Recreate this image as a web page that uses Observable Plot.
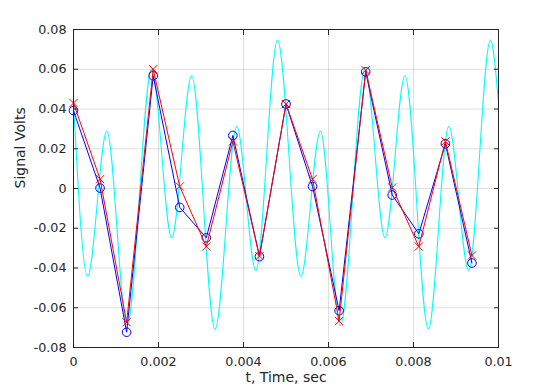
<!DOCTYPE html>
<html>
<head>
<meta charset="utf-8">
<script src="https://cdn.jsdelivr.net/npm/d3@7"></script>
<script src="https://cdn.jsdelivr.net/npm/@observablehq/plot@0.6"></script>
<style>
  html, body { margin: 0; padding: 0; background: #fff; }
</style>
</head>
<body>
<div id="chart"></div>
<script>
// Sample instants (seconds)
const sampleTimes = [0, 0.000625, 0.00125, 0.001875, 0.0025, 0.003125, 0.00375, 0.004375,
                     0.005, 0.005625, 0.00625, 0.006875, 0.0075, 0.008125, 0.00875, 0.009375];
// Blue series (circles)
const blueValues = [0.0392, 0.0002, -0.0723, 0.0567, -0.0095, -0.0248, 0.0267, -0.0343,
                    0.0425, 0.0010, -0.0615, 0.0587, -0.0033, -0.0228, 0.0225, -0.0375];
// Red series (x markers)
const redValues = [0.0430, 0.0047, -0.0673, 0.0600, 0.0010, -0.0292, 0.0237, -0.0340,
                   0.0425, 0.0047, -0.0667, 0.0595, 0.0005, -0.0292, 0.0237, -0.0337];
// Cyan continuous signal: read-off turning points (peaks / troughs) and end points
const cyanTimes = [0, 0.00033, 0.000785, 0.00126, 0.00184, 0.00231, 0.00278, 0.00333, 0.00384, 0.00429, 0.0048,
                   0.00535, 0.00581, 0.00628, 0.00686, 0.00733, 0.0078, 0.00835, 0.00883, 0.0093, 0.00981, 0.01];
const cyanValues = [0.043, -0.0442, 0.0288, -0.0687, 0.0603, -0.0248, 0.0567, -0.0708, 0.0312, -0.0412, 0.0747,
                    -0.0442, 0.0288, -0.069, 0.0603, -0.0248, 0.0567, -0.0708, 0.0312, -0.0412, 0.0747, 0.0433];
// Tick values
const xTicks = [0, 0.002, 0.004, 0.006, 0.008, 0.01];
const yTicks = [-0.08, -0.06, -0.04, -0.02, 0, 0.02, 0.04, 0.06, 0.08];
const xLabel = "t, Time, sec";
const yLabel = "Signal Volts";

const cyan = cyanTimes.map((t, i) => ({t, v: cyanValues[i]}));
const blue = sampleTimes.map((t, i) => ({t, v: blueValues[i]}));
const red = sampleTimes.map((t, i) => ({t, v: redValues[i]}));

const fmt = d => String(Math.round(d * 1e6) / 1e6);
const axisColor = "#262626";

const chart = Plot.plot({
  width: 550,
  height: 390,
  marginLeft: 73,
  marginRight: 52,
  marginTop: 29,
  marginBottom: 43,
  style: {fontFamily: "DejaVu Sans, sans-serif", fontSize: "12.7px", color: axisColor, background: "#fff"},
  x: {domain: [0, 0.01]},
  y: {domain: [-0.08, 0.08]},
  marks: [
    Plot.gridX(xTicks, {stroke: axisColor, strokeOpacity: 0.15}),
    Plot.gridY(yTicks, {stroke: axisColor, strokeOpacity: 0.15}),
    Plot.line(cyan, {x: "t", y: "v", stroke: "#00ffff", strokeWidth: 1.1, curve: "monotone-x"}),
    Plot.line(blue, {x: "t", y: "v", stroke: "#0000ff", strokeWidth: 1}),
    Plot.dot(blue, {x: "t", y: "v", stroke: "#0000ff", r: 4.3, strokeWidth: 1}),
    Plot.line(red, {x: "t", y: "v", stroke: "#ff0000", strokeWidth: 1}),
    Plot.dot(red, {x: "t", y: "v", stroke: "#ff0000", symbol: "times", r: 3.8, strokeWidth: 1}),
    Plot.frame({stroke: axisColor, strokeWidth: 1}),
    // inward tick marks on all four sides
    Plot.axisX({ticks: xTicks, anchor: "bottom", tickSize: -5, fill: "none", stroke: axisColor, label: null}),
    Plot.axisX({ticks: xTicks, anchor: "top", tickSize: -5, fill: "none", stroke: axisColor, label: null}),
    Plot.axisY({ticks: yTicks, anchor: "left", tickSize: -5, fill: "none", stroke: axisColor, label: null}),
    Plot.axisY({ticks: yTicks, anchor: "right", tickSize: -5, fill: "none", stroke: axisColor, label: null}),
    // tick labels
    Plot.axisX({ticks: xTicks, anchor: "bottom", tickSize: 0, tickPadding: 9, tickFormat: fmt, fill: axisColor, label: null}),
    Plot.axisY({ticks: yTicks, anchor: "left", tickSize: 0, tickPadding: 7, tickFormat: fmt, fill: axisColor, label: null}),
    // axis titles
    Plot.text([xLabel], {text: d => d, frameAnchor: "bottom", dy: 34, fontSize: 14, fill: axisColor}),
    Plot.text([yLabel], {text: d => d, frameAnchor: "left", dx: -53, rotate: -90, fontSize: 14, fill: axisColor})
  ]
});
document.getElementById("chart").append(chart);
</script>
</body>
</html>
